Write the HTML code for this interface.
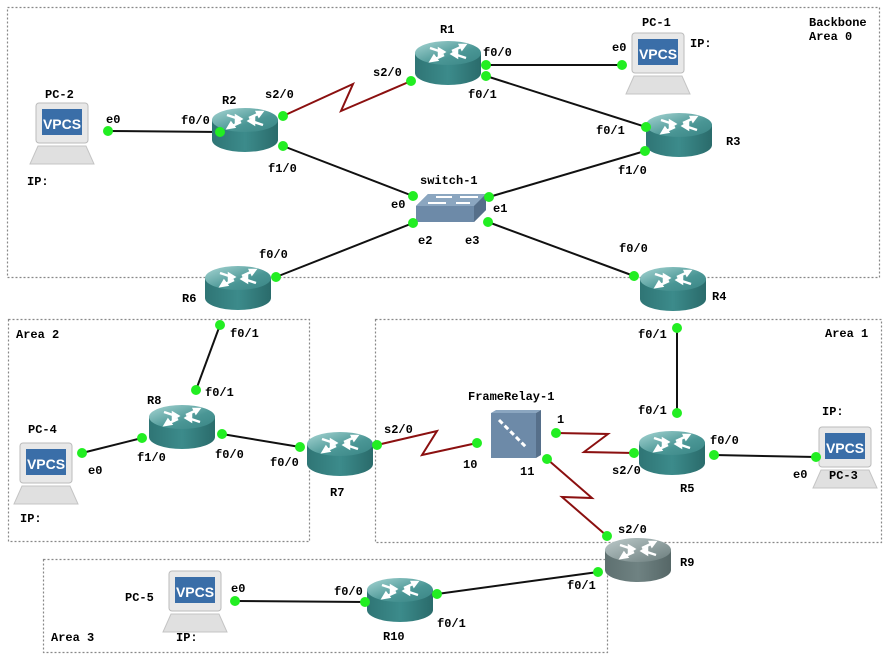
<!DOCTYPE html>
<html><head><meta charset="utf-8">
<style>
html,body{margin:0;padding:0;background:#fff;}
svg{display:block;}
text{font-family:"Liberation Mono","DejaVu Sans Mono",monospace;font-weight:bold;font-size:12px;fill:#000;}
.vp{font-family:"Liberation Sans",sans-serif;font-size:14px;fill:#fff;font-weight:bold;}
</style></head><body>
<svg width="885" height="657" viewBox="0 0 885 657" xmlns="http://www.w3.org/2000/svg">
<defs>
<linearGradient id="rt" x1="0" y1="0" x2="1" y2="1"><stop offset="0" stop-color="#a8d6d4"/><stop offset="0.6" stop-color="#4a9695"/><stop offset="1" stop-color="#3a8585"/></linearGradient>
<linearGradient id="rb" x1="0" y1="0" x2="1" y2="0"><stop offset="0" stop-color="#2f7575"/><stop offset="0.5" stop-color="#3c8b8b"/><stop offset="1" stop-color="#2a6b6b"/></linearGradient>
<linearGradient id="gt" x1="0" y1="0" x2="1" y2="1"><stop offset="0" stop-color="#bccaca"/><stop offset="1" stop-color="#6a7c7c"/></linearGradient>
<linearGradient id="gb" x1="0" y1="0" x2="1" y2="0"><stop offset="0" stop-color="#5e7070"/><stop offset="0.5" stop-color="#6f8282"/><stop offset="1" stop-color="#566767"/></linearGradient>
<g id="arrows" stroke="#fff" stroke-width="2.5" fill="#fff">
<path d="M-18,-17 L-6,-13" fill="none"/><path d="M-4,-13 l-5,-3 l0,6z"/>
<path d="M18,-7 L6,-11" fill="none"/><path d="M4,-11 l5,-3 l0,6z"/>
<path d="M-4,-10 L-15,-5" fill="none"/><path d="M-17,-4 l3,-5 l3,4z"/>
<path d="M4,-14 L15,-19" fill="none"/><path d="M17,-20 l-5,0 l2,4z"/>
</g>
<g id="router">
<rect x="-33" y="-10" width="66" height="20" fill="url(#rb)"/>
<ellipse cx="0" cy="10" rx="33" ry="12" fill="url(#rb)"/>
<ellipse cx="0" cy="-10" rx="33" ry="12" fill="url(#rt)"/>
<use href="#arrows" y="2"/>
</g>
<g id="routerg">
<rect x="-33" y="-10" width="66" height="20" fill="url(#gb)"/>
<ellipse cx="0" cy="10" rx="33" ry="12" fill="url(#gb)"/>
<ellipse cx="0" cy="-10" rx="33" ry="12" fill="url(#gt)"/>
<use href="#arrows" y="2"/>
</g>
<g id="pc">
<rect x="-26" y="-30" width="52" height="40" rx="3" fill="#e8e8e8" stroke="#bbb"/>
<rect x="-20" y="-24" width="40" height="26" fill="#3a6ea8"/>
<path d="M-24,13 L24,13 L32,31 L-32,31 Z" fill="#e0e0e0" stroke="#c4c4c4"/>
</g>
</defs>

<g fill="none" stroke="#888" stroke-width="1.2" stroke-dasharray="2,2">
<rect x="7.5" y="7.5" width="872" height="270"/>
<rect x="8.5" y="319.5" width="301" height="222"/>
<rect x="375.5" y="319.5" width="506" height="223"/>
<rect x="43.5" y="559.5" width="564" height="93"/>
</g>

<g stroke="#111" stroke-width="2" fill="none">
<line x1="108" y1="131" x2="220" y2="132"/>
<line x1="283" y1="146" x2="413" y2="196"/>
<line x1="486" y1="65" x2="622" y2="65"/>
<line x1="486" y1="76" x2="646" y2="127"/>
<line x1="645" y1="151" x2="489" y2="197"/>
<line x1="413" y1="223" x2="276" y2="277"/>
<line x1="488" y1="222" x2="634" y2="276"/>
<line x1="220" y1="325" x2="196" y2="390"/>
<line x1="142" y1="438" x2="82" y2="453"/>
<line x1="222" y1="434" x2="300" y2="447"/>
<line x1="677" y1="328" x2="677" y2="413"/>
<line x1="714" y1="455" x2="816" y2="457"/>
<line x1="598" y1="572" x2="437" y2="594"/>
<line x1="365" y1="602" x2="235" y2="601"/>
</g>
<g stroke="#8b1010" stroke-width="2" fill="none">
<polyline points="283,116 353,84 341,111 411,81"/>
<polyline points="377,445 437,431 422,455 477,443"/>
<polyline points="556,433 608,434 584,452 634,453"/>
<polyline points="547,459 592,498 562,497 607,536"/>
</g>

<use href="#router" x="448" y="63"/>
<use href="#router" x="245" y="130"/>
<use href="#router" x="679" y="135"/>
<use href="#router" x="238" y="288"/>
<use href="#router" x="673" y="289"/>
<use href="#router" x="182" y="427"/>
<use href="#router" x="340" y="454"/>
<use href="#router" x="672" y="453"/>
<use href="#routerg" x="638" y="560"/>
<use href="#router" x="400" y="600"/>

<g>
<path d="M416,206 L428,194 L486,194 L486,210 L474,222 L416,222 Z" fill="#6d8aa8"/>
<path d="M416,206 L428,194 L486,194 L474,206 Z" fill="#8ba6c0"/>
<path d="M474,206 L486,194 L486,210 L474,222 Z" fill="#566f8a"/>
<g stroke="#fff" stroke-width="2"><line x1="428" y1="203" x2="446" y2="203"/><line x1="456" y1="203" x2="470" y2="203"/><line x1="436" y1="197" x2="452" y2="197"/><line x1="460" y1="197" x2="478" y2="197"/></g>
</g>
<g>
<rect x="491" y="413" width="45" height="45" fill="#6d8aa8"/>
<path d="M491,413 L496,410 L541,410 L536,413 Z" fill="#8ba6c0"/>
<path d="M536,413 L541,410 L541,455 L536,458 Z" fill="#566f8a"/>
<path d="M499,420 L527,448" stroke="#fff" stroke-width="3" stroke-dasharray="5,3"/>
</g>

<g><use href="#pc" x="658" y="63"/><text class="vp" x="658" y="59" text-anchor="middle">VPCS</text></g>
<g><use href="#pc" x="62" y="133"/><text class="vp" x="62" y="129" text-anchor="middle">VPCS</text></g>
<g><use href="#pc" x="845" y="457"/><text class="vp" x="845" y="453" text-anchor="middle">VPCS</text></g>
<g><use href="#pc" x="46" y="473"/><text class="vp" x="46" y="469" text-anchor="middle">VPCS</text></g>
<g><use href="#pc" x="195" y="601"/><text class="vp" x="195" y="597" text-anchor="middle">VPCS</text></g>

<g fill="#22ee22">
<circle cx="108" cy="131" r="5"/><circle cx="220" cy="132" r="5"/>
<circle cx="283" cy="116" r="5"/><circle cx="411" cy="81" r="5"/>
<circle cx="283" cy="146" r="5"/><circle cx="413" cy="196" r="5"/>
<circle cx="486" cy="65" r="5"/><circle cx="622" cy="65" r="5"/>
<circle cx="486" cy="76" r="5"/><circle cx="646" cy="127" r="5"/>
<circle cx="645" cy="151" r="5"/><circle cx="489" cy="197" r="5"/>
<circle cx="413" cy="223" r="5"/><circle cx="276" cy="277" r="5"/>
<circle cx="488" cy="222" r="5"/><circle cx="634" cy="276" r="5"/>
<circle cx="220" cy="325" r="5"/><circle cx="196" cy="390" r="5"/>
<circle cx="142" cy="438" r="5"/><circle cx="82" cy="453" r="5"/>
<circle cx="222" cy="434" r="5"/><circle cx="300" cy="447" r="5"/>
<circle cx="377" cy="445" r="5"/><circle cx="477" cy="443" r="5"/>
<circle cx="556" cy="433" r="5"/><circle cx="634" cy="453" r="5"/>
<circle cx="547" cy="459" r="5"/><circle cx="607" cy="536" r="5"/>
<circle cx="677" cy="328" r="5"/><circle cx="677" cy="413" r="5"/>
<circle cx="714" cy="455" r="5"/><circle cx="816" cy="457" r="5"/>
<circle cx="598" cy="572" r="5"/><circle cx="437" cy="594" r="5"/>
<circle cx="365" cy="602" r="5"/><circle cx="235" cy="601" r="5"/>
</g>

<text x="809" y="26">Backbone</text><text x="809" y="40">Area 0</text>
<text x="16" y="338">Area 2</text>
<text x="825" y="337">Area 1</text>
<text x="51" y="641">Area 3</text>

<text x="440" y="33">R1</text>
<text x="222" y="104">R2</text>
<text x="726" y="145">R3</text>
<text x="712" y="300">R4</text>
<text x="680" y="492">R5</text>
<text x="182" y="302">R6</text>
<text x="330" y="496">R7</text>
<text x="147" y="404">R8</text>
<text x="680" y="566">R9</text>
<text x="383" y="640">R10</text>
<text x="420" y="184">switch-1</text>
<text x="468" y="400">FrameRelay-1</text>
<text x="642" y="26">PC-1</text>
<text x="45" y="98">PC-2</text>
<text x="829" y="479">PC-3</text>
<text x="28" y="433">PC-4</text>
<text x="125" y="601">PC-5</text>
<text x="690" y="47">IP:</text>
<text x="27" y="185">IP:</text>
<text x="822" y="415">IP:</text>
<text x="20" y="522">IP:</text>
<text x="176" y="641">IP:</text>

<text x="106" y="123">e0</text>
<text x="181" y="124">f0/0</text>
<text x="265" y="98">s2/0</text>
<text x="268" y="172">f1/0</text>
<text x="373" y="76">s2/0</text>
<text x="483" y="56">f0/0</text>
<text x="468" y="98">f0/1</text>
<text x="612" y="51">e0</text>
<text x="596" y="134">f0/1</text>
<text x="618" y="174">f1/0</text>
<text x="391" y="208">e0</text>
<text x="493" y="212">e1</text>
<text x="418" y="244">e2</text>
<text x="465" y="244">e3</text>
<text x="259" y="258">f0/0</text>
<text x="619" y="252">f0/0</text>
<text x="230" y="337">f0/1</text>
<text x="205" y="396">f0/1</text>
<text x="88" y="474">e0</text>
<text x="137" y="461">f1/0</text>
<text x="215" y="458">f0/0</text>
<text x="270" y="466">f0/0</text>
<text x="384" y="433">s2/0</text>
<text x="463" y="468">10</text>
<text x="557" y="423">1</text>
<text x="520" y="475">11</text>
<text x="612" y="474">s2/0</text>
<text x="638" y="338">f0/1</text>
<text x="638" y="414">f0/1</text>
<text x="710" y="444">f0/0</text>
<text x="793" y="478">e0</text>
<text x="618" y="533">s2/0</text>
<text x="567" y="589">f0/1</text>
<text x="437" y="627">f0/1</text>
<text x="334" y="595">f0/0</text>
<text x="231" y="592">e0</text>
</svg>
</body></html>
